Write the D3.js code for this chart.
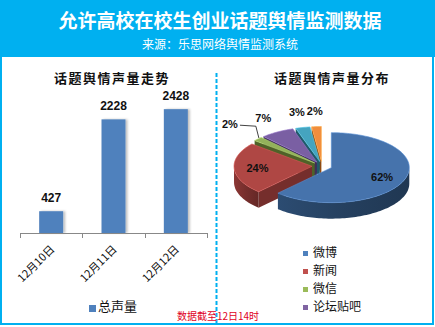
<!DOCTYPE html>
<html><head><meta charset="utf-8">
<script src="https://cdn.jsdelivr.net/npm/d3@7"></script>
<style>
body{margin:0;background:#fff}
svg{display:block}
text{font-family:"Noto Sans CJK SC","Liberation Sans",sans-serif}
</style>
</head><body><svg id="c" width="435" height="327"></svg>
<script>
// ---------- data ----------
const mainTitle = "允许高校在校生创业话题舆情监测数据";
const subTitle = "来源：乐思网络舆情监测系统";
const barTitle = "话题舆情声量走势";
const pieTitle = "话题舆情声量分布";
const footNote = "数据截至12日14时";
const dates = ["12月10日", "12月11日", "12月12日"];
const volumes = [427, 2228, 2428];
const barSeriesName = "总声量";
const channels = ["微博", "新闻", "微信", "论坛贴吧", "博客", "其他"];
const shares = [62, 24, 2, 7, 3, 2];
const legendCount = 4;

// ---------- styles ----------
const blueHead = "#00B0F0";
const barColor = "#4F81BD";
const topColors = ["#4673AC", "#AF4744", "#93B25A", "#7A5FA3", "#45A4BF", "#F08D3D"];
const wallColors = ["#25405F", "#752E2C", "#4F6228", "#3F2F5A", "#205A69", "#8E4A10"];
const legendColors = ["#4F81BD", "#C0504D", "#9BBB59", "#8064A2", "#4BACC6", "#F79646"];

const svg = d3.select("#c");

// header
svg.append("rect").attr("x", 0).attr("y", 0).attr("width", 435).attr("height", 57).attr("fill", blueHead);
svg.append("text").attr("x", 220).attr("y", 28).attr("text-anchor", "middle")
  .attr("font-size", 19).attr("font-weight", "bold").attr("fill", "#fff").text(mainTitle);
svg.append("text").attr("x", 220).attr("y", 49).attr("text-anchor", "middle")
  .attr("font-size", 12).attr("fill", "#fff").text(subTitle);

// frame
svg.append("path").attr("d", "M1,56V324H433V56").attr("fill", "none").attr("stroke", blueHead).attr("stroke-width", 2);
svg.append("line").attr("x1", 216.5).attr("x2", 216.5).attr("y1", 73).attr("y2", 324)
  .attr("stroke", blueHead).attr("stroke-width", 2).attr("stroke-dasharray", "4,2");

// chart titles
svg.append("text").attr("x", 112).attr("y", 83).attr("text-anchor", "middle")
  .attr("font-size", 13).attr("font-weight", "bold").attr("letter-spacing", 1.5).attr("fill", "#111").text(barTitle);
svg.append("text").attr("x", 332).attr("y", 83).attr("text-anchor", "middle")
  .attr("font-size", 13).attr("font-weight", "bold").attr("letter-spacing", 1.5).attr("fill", "#111").text(pieTitle);

// ---------- bar chart ----------
const defs = svg.append("defs");
const f = defs.append("filter").attr("id", "sh").attr("x", "-20%").attr("y", "-20%").attr("width", "150%").attr("height", "150%");
f.append("feDropShadow").attr("dx", 2).attr("dy", 0).attr("stdDeviation", 1).attr("flood-color", "#000").attr("flood-opacity", 0.25);

const x = d3.scaleBand().domain(dates).range([20, 207]).padding(0);
const y = d3.scaleLinear().domain([0, 3000]).range([233, 80]);
const bw = x.bandwidth() * 0.385;

const gb = svg.append("g");
gb.selectAll("rect.bar").data(volumes).join("rect").attr("class", "bar")
  .attr("x", (d, i) => x(dates[i]) + x.bandwidth() / 2 - bw / 2)
  .attr("y", d => y(d)).attr("width", bw).attr("height", d => y(0) - y(d))
  .attr("fill", barColor).attr("filter", "url(#sh)");
gb.selectAll("text.val").data(volumes).join("text").attr("class", "val")
  .attr("x", (d, i) => x(dates[i]) + x.bandwidth() / 2).attr("y", d => y(d) - 9)
  .attr("text-anchor", "middle").attr("font-size", 12).attr("font-weight", "bold")
  .style("font-family", "'Liberation Sans',Arial,sans-serif").attr("fill", "#111").text(d => d);

// axis
gb.append("line").attr("x1", x.range()[0]).attr("x2", x.range()[1]).attr("y1", y(0) + 0.5).attr("y2", y(0) + 0.5)
  .attr("stroke", "#888").attr("stroke-width", 1);
const tickPos = dates.map(d => x(d)).concat([x.range()[1]]);
gb.selectAll("line.tk").data(tickPos).join("line").attr("class", "tk")
  .attr("x1", d => Math.round(d) + 0.5).attr("x2", d => Math.round(d) + 0.5)
  .attr("y1", y(0)).attr("y2", y(0) + 5).attr("stroke", "#888");
gb.selectAll("text.xl").data(dates).join("text").attr("class", "xl")
  .attr("transform", d => `translate(${x(d) + x.bandwidth() / 2 + 4},${y(0) + 17}) rotate(-45)`)
  .attr("text-anchor", "end").attr("font-size", 11).attr("fill", "#111").text(d => d);

// bar legend
gb.append("rect").attr("x", 89).attr("y", 305).attr("width", 7).attr("height", 7).attr("fill", barColor);
gb.append("text").attr("x", 98).attr("y", 311).attr("font-size", 13).attr("fill", "#111").text(barSeriesName);

// ---------- 3D pie ----------
const P = {cx: 322, cy: 166, rx: 78, ry: 35, depth: 16, ex: 10};
const arcs = d3.pie().sort(null).value(d => d).startAngle(0).endAngle(2 * Math.PI)(shares);
const k = P.ry / P.rx;
const apexOf = a => {
  const m = (a.startAngle + a.endAngle) / 2;
  return [P.cx + P.ex * Math.sin(m), P.cy - P.ex * k * Math.cos(m)];
};
const rim = (c, t, dz = 0) => [c[0] + P.rx * Math.sin(t), c[1] - P.ry * Math.cos(t) + dz];
const line = d3.line();
const arcPts = (c, t0, t1, dz = 0) => {
  const n = Math.max(2, Math.ceil(Math.abs(t1 - t0) / 0.03));
  return d3.range(n + 1).map(i => rim(c, t0 + (t1 - t0) * i / n, dz));
};

const gp = svg.append("g");
const order = arcs.map((a, i) => i).sort((i, j) => {
  const mi = (arcs[i].startAngle + arcs[i].endAngle) / 2, mj = (arcs[j].startAngle + arcs[j].endAngle) / 2;
  return Math.cos(mj) - Math.cos(mi);
});
const D = P.depth;
order.forEach(i => {
  const a = arcs[i], c = apexOf(a);
  const g = gp.append("g");
  if (Math.sin(a.startAngle) < -1e-6) {
    const r0 = rim(c, a.startAngle);
    g.append("path").attr("d", line([c, r0, [r0[0], r0[1] + D], [c[0], c[1] + D]]) + "Z").attr("fill", wallColors[i]);
  }
  if (Math.sin(a.endAngle) > 1e-6) {
    const r1 = rim(c, a.endAngle);
    g.append("path").attr("d", line([c, r1, [r1[0], r1[1] + D], [c[0], c[1] + D]]) + "Z").attr("fill", wallColors[i]);
  }
  const s = Math.max(a.startAngle, Math.PI / 2), e = Math.min(a.endAngle, 3 * Math.PI / 2);
  if (e > s) {
    const pts = arcPts(c, s, e).concat(arcPts(c, e, s, D));
    const gid = "wg" + i;
    const lg = defs.append("linearGradient").attr("id", gid).attr("x1", 0).attr("x2", 1).attr("y1", 0).attr("y2", 0);
    const base = d3.color(wallColors[i]);
    lg.append("stop").attr("offset", 0).attr("stop-color", base.brighter(0.5));
    lg.append("stop").attr("offset", 0.5).attr("stop-color", base);
    lg.append("stop").attr("offset", 1).attr("stop-color", base.darker(0.4));
    g.append("path").attr("d", line(pts) + "Z").attr("fill", `url(#${gid})`);
  }
  const top = [c].concat(arcPts(c, a.startAngle, a.endAngle));
  g.append("path").attr("d", line(top) + "Z").attr("fill", topColors[i])
    .attr("stroke", d3.color(topColors[i]).brighter(0.6)).attr("stroke-width", 0.6);
});

// pie labels
arcs.forEach((a, i) => {
  const c = apexOf(a), m = (a.startAngle + a.endAngle) / 2;
  let lx, ly;
  const big = shares[i] >= 10;
  if (big) {
    lx = c[0] + 0.7 * P.rx * Math.sin(m);
    ly = c[1] - 0.7 * P.ry * Math.cos(m);
  } else {
    lx = c[0] + 1.35 * P.rx * Math.sin(m);
    ly = c[1] - 1.45 * P.ry * Math.cos(m);
  }
  const leader = !big && Math.sin(m) < -0.6;
  if (leader) {
    lx -= 8; ly -= 4;
    const r = rim(c, m);
    gp.append("path").attr("d", line([[lx + 10, ly + 1], [r[0] - 2, ly + 2], [r[0] + 1, r[1] - 1]]))
      .attr("fill", "none").attr("stroke", "#111").attr("stroke-width", 0.8);
  }
  gp.append("text").attr("x", lx).attr("y", ly + 4).attr("text-anchor", "middle")
    .attr("font-size", 11).attr("font-weight", "bold").style("font-family", "'Liberation Sans',Arial,sans-serif")
    .attr("fill", "#111").text(shares[i] + "%");
});

// pie legend
const lgd = svg.append("g");
channels.slice(0, legendCount).forEach((name, i) => {
  const cy = 252 + i * 18;
  lgd.append("rect").attr("x", 303).attr("y", cy - 1).attr("width", 5).attr("height", 5).attr("fill", legendColors[i]);
  lgd.append("text").attr("x", 313).attr("y", cy + 5).attr("font-size", 12).attr("fill", "#111").text(name);
});

// footer
svg.append("text").attr("x", 218).attr("y", 320).attr("text-anchor", "middle")
  .attr("font-size", 10).attr("fill", "#E0001E").text(footNote);
</script>
</body></html>
